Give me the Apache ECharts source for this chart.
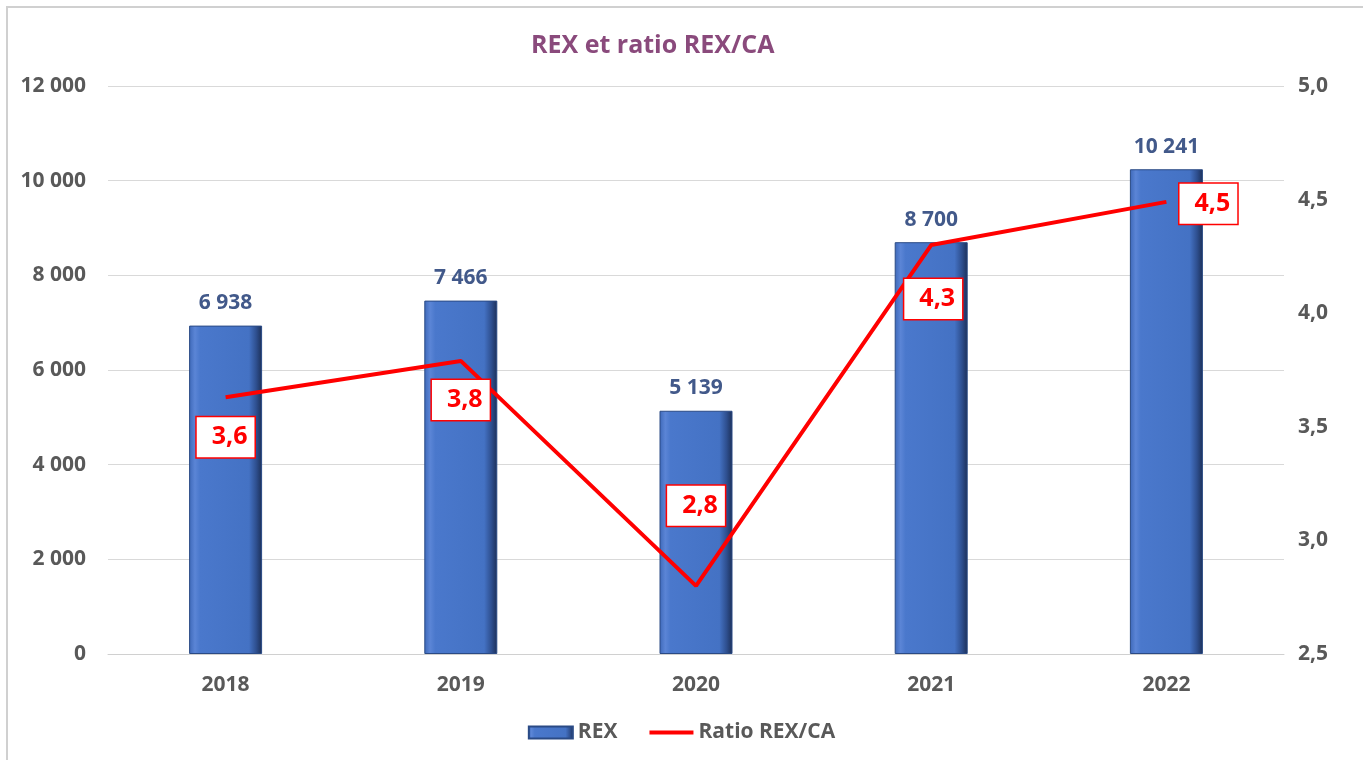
<!DOCTYPE html>
<html><head><meta charset="utf-8">
<script src="https://cdn.jsdelivr.net/npm/echarts@6/dist/echarts.min.js"></script>
<style>html,body{margin:0;padding:0;background:#fff}#c{width:1363px;height:760px}</style>
</head><body><div id="c"></div>
<script>
const categories = ['2018','2019','2020','2021','2022'];
const rexValues = [6938, 7466, 5139, 8700, 10241];
const ratioValues = [3.63, 3.79, 2.80, 4.30, 4.49];
const leftTicks = [0, 2000, 4000, 6000, 8000, 10000, 12000];
const rightTicks = [2.5, 3.0, 3.5, 4.0, 4.5, 5.0];

const FONT = 'Open Sans';
const chart = echarts.init(document.getElementById('c'));
const labelOffsets = [[0,40],[0,39],[0,-80],[2,54],[42,2]];
const fmtThousands = v => String(v).replace(/\B(?=(\d{3})+(?!\d))/g,' ');

chart.setOption({
  animation: false,
  textStyle: {fontFamily: FONT},
  graphic: [{type:'rect', shape:{x:7,y:7,width:1380,height:800}, style:{fill:'none', stroke:'#d0d0d0', lineWidth:2}, silent:true}],
  title: {text:'REX et ratio REX/CA', left:526, top:28, textStyle:{color:'#8a4a7c', fontSize:25, fontWeight:'bold', fontFamily:FONT}},
  legend: {bottom:12, left:'center', itemGap:30, itemWidth:44, itemHeight:12,
    textStyle:{color:'#595959', fontSize:21, fontWeight:'bold', fontFamily:FONT},
    data:[{name:'REX', icon:'rect'}, {name:'Ratio REX/CA', itemStyle:{opacity:0}, lineStyle:{width:4}}]},
  grid: {left:108, right:79, top:86, bottom:106},
  xAxis: {type:'category', data:categories, axisTick:{show:false},
    axisLine:{lineStyle:{color:'#d0d0d0', width:1}},
    axisLabel:{color:'#595959', fontSize:21, fontWeight:'bold', margin:21}},
  yAxis: [
    {type:'value', min:leftTicks[0], max:leftTicks[leftTicks.length-1], interval:2000,
     axisLine:{show:false}, axisTick:{show:false},
     splitLine:{lineStyle:{color:'#d9d9d9'}},
     axisLabel:{color:'#595959', fontSize:21, fontWeight:'bold', margin:22, formatter:fmtThousands}},
    {type:'value', min:rightTicks[0], max:rightTicks[rightTicks.length-1], interval:0.5,
     axisLine:{show:false}, axisTick:{show:false}, splitLine:{show:false},
     axisLabel:{color:'#595959', fontSize:21, fontWeight:'bold', margin:14,
       formatter:v=>v.toFixed(1).replace('.',',')}}
  ],
  series: [
    {name:'REX', type:'bar', data:rexValues, barWidth:73,
     itemStyle:{
       color:new echarts.graphic.LinearGradient(0,0,1,0,[
         {offset:0,color:'#3d68b8'},{offset:0.08,color:'#5b85d6'},{offset:0.15,color:'#4a78cc'},
         {offset:0.82,color:'#4472c4'},{offset:0.92,color:'#2e4f8f'},{offset:1,color:'#1c2f57'}]),
       borderColor:'#2a4a85', borderWidth:1},
     label:{show:true, position:'top', distance:12, color:'#42598a', fontSize:21, fontWeight:'bold',
       formatter:p=>fmtThousands(p.value)}},
    {name:'Ratio REX/CA', type:'line', yAxisIndex:1, data:ratioValues,
     symbol:'none', lineStyle:{color:'#ff0000', width:4}, itemStyle:{color:'#ff0000'}},
    {name:'ratioLabels', type:'scatter', yAxisIndex:1, symbolSize:2, z:5,
     itemStyle:{color:'rgba(0,0,0,0)', opacity:1},
     data:ratioValues.map((v,i)=>({value:v, label:{offset:labelOffsets[i]}})),
     label:{show:true, position:'inside', color:'#ff0000', fontSize:25, fontWeight:'bold', opacity:1,
       backgroundColor:'#ffffff', borderColor:'#ff0000', borderWidth:1.5, padding:[9,7,6,15],
       formatter:p=>p.value.toFixed(1).replace('.',',')}}
  ]
});
</script></body></html>
